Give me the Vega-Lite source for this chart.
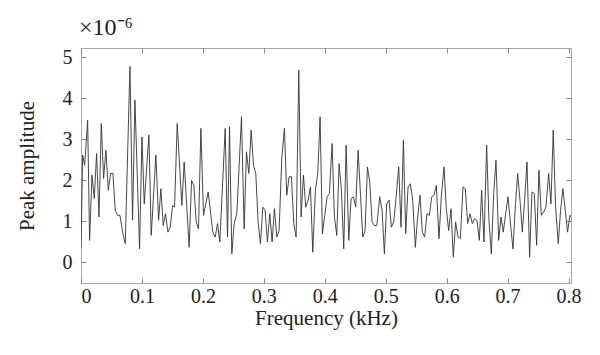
{
  "$schema": "https://vega.github.io/schema/vega-lite/v6.json",
  "autosize": {"type": "none"},
  "width": 490,
  "height": 235,
  "padding": {"left": 81, "top": 48, "right": 29, "bottom": 72},
  "background": "white",
  "title": {"text": "×10⁻⁶", "anchor": "start", "frame": "group", "offset": 7, "font": "Liberation Serif", "fontSize": 24, "fontWeight": "normal", "color": "#222", "dx": -2},
  "config": {
    "title": {"fontSize": 24},
    "view": {"stroke": "#aaaaaa", "strokeWidth": 1},
    "axis": {"grid": false, "domain": false, "tickColor": "#888888", "tickSize": -5, "labelFont": "Liberation Serif", "labelFontSize": 20, "labelColor": "#222", "titleFont": "Liberation Serif", "titleFontSize": 21, "titleFontWeight": "normal", "titleColor": "#222"}
  },
  "data": {"values": [
    {"f":0,"a":0.35},{"f":0.0027,"a":2.62},{"f":0.0060,"a":2.37},{"f":0.0109,"a":3.47},{"f":0.0141,"a":0.54},{"f":0.0180,"a":2.13},{"f":0.0218,"a":1.56},{"f":0.0256,"a":2.66},{"f":0.0295,"a":1.11},{"f":0.0333,"a":3.39},{"f":0.0371,"a":2.05},{"f":0.0409,"a":2.74},{"f":0.0448,"a":1.76},{"f":0.0486,"a":2.17},{"f":0.0524,"a":2.17},{"f":0.0562,"a":1.27},{"f":0.0601,"a":1.15},{"f":0.0639,"a":1.15},{"f":0.0688,"a":0.70},{"f":0.0726,"a":0.46},{"f":0.0803,"a":4.78},{"f":0.0846,"a":1.03},{"f":0.0885,"a":3.96},{"f":0.0961,"a":0.33},{"f":0.1000,"a":3.06},{"f":0.1038,"a":1.43},{"f":0.1114,"a":3.11},{"f":0.1152,"a":0.66},{"f":0.1229,"a":2.62},{"f":0.1273,"a":1.03},{"f":0.1311,"a":1.80},{"f":0.1349,"a":0.90},{"f":0.1387,"a":1.19},{"f":0.1426,"a":0.74},{"f":0.1464,"a":0.86},{"f":0.1502,"a":1.39},{"f":0.1535,"a":1.35},{"f":0.1579,"a":3.39},{"f":0.1655,"a":1.39},{"f":0.1693,"a":2.45},{"f":0.1775,"a":0.37},{"f":0.1814,"a":2.00},{"f":0.1852,"a":1.88},{"f":0.1890,"a":0.99},{"f":0.1928,"a":0.82},{"f":0.1967,"a":3.27},{"f":0.2010,"a":1.15},{"f":0.2087,"a":1.72},{"f":0.2163,"a":0.74},{"f":0.2202,"a":0.62},{"f":0.2240,"a":0.95},{"f":0.2278,"a":0.50},{"f":0.2366,"a":3.27},{"f":0.2404,"a":0.62},{"f":0.2437,"a":3.31},{"f":0.2475,"a":0.21},{"f":0.2513,"a":0.95},{"f":0.2557,"a":1.19},{"f":0.2633,"a":3.55},{"f":0.2677,"a":0.82},{"f":0.2715,"a":2.70},{"f":0.2754,"a":2.17},{"f":0.2792,"a":3.23},{"f":0.2830,"a":2.37},{"f":0.2868,"a":2.17},{"f":0.2906,"a":0.99},{"f":0.2944,"a":0.46},{"f":0.2983,"a":1.35},{"f":0.3021,"a":1.27},{"f":0.3059,"a":0.50},{"f":0.3098,"a":1.19},{"f":0.3136,"a":0.50},{"f":0.3174,"a":1.31},{"f":0.3213,"a":0.62},{"f":0.3251,"a":0.78},{"f":0.3294,"a":2.53},{"f":0.3338,"a":3.27},{"f":0.3376,"a":1.64},{"f":0.3415,"a":2.09},{"f":0.3453,"a":2.09},{"f":0.3491,"a":0.95},{"f":0.3530,"a":0.62},{"f":0.3573,"a":4.69},{"f":0.3612,"a":1.11},{"f":0.3650,"a":2.13},{"f":0.3688,"a":1.35},{"f":0.3727,"a":1.52},{"f":0.3765,"a":1.84},{"f":0.3803,"a":0.25},{"f":0.3846,"a":1.76},{"f":0.3885,"a":2.17},{"f":0.3923,"a":3.55},{"f":0.3961,"a":0.70},{"f":0.4000,"a":1.15},{"f":0.4038,"a":1.60},{"f":0.4076,"a":1.68},{"f":0.4120,"a":2.90},{"f":0.4158,"a":1.11},{"f":0.4197,"a":0.66},{"f":0.4235,"a":2.41},{"f":0.4273,"a":1.76},{"f":0.4311,"a":0.33},{"f":0.4350,"a":2.86},{"f":0.4393,"a":0.54},{"f":0.4432,"a":1.56},{"f":0.4470,"a":1.60},{"f":0.4508,"a":1.35},{"f":0.4547,"a":2.74},{"f":0.4585,"a":1.68},{"f":0.4623,"a":0.62},{"f":0.4661,"a":0.78},{"f":0.4700,"a":2.33},{"f":0.4738,"a":1.96},{"f":0.4776,"a":0.99},{"f":0.4814,"a":0.90},{"f":0.4853,"a":0.90},{"f":0.4902,"a":1.60},{"f":0.4940,"a":1.27},{"f":0.4978,"a":0.21},{"f":0.5016,"a":1.43},{"f":0.5055,"a":1.52},{"f":0.5093,"a":0.86},{"f":0.5131,"a":0.99},{"f":0.5169,"a":1.56},{"f":0.5213,"a":2.33},{"f":0.5251,"a":0.86},{"f":0.5290,"a":2.98},{"f":0.5328,"a":0.70},{"f":0.5366,"a":1.84},{"f":0.5404,"a":1.92},{"f":0.5443,"a":1.52},{"f":0.5486,"a":0.37},{"f":0.5519,"a":1.03},{"f":0.5562,"a":1.64},{"f":0.5601,"a":0.74},{"f":0.5639,"a":0.62},{"f":0.5677,"a":1.19},{"f":0.5716,"a":1.15},{"f":0.5754,"a":1.60},{"f":0.5792,"a":1.64},{"f":0.5831,"a":1.88},{"f":0.5874,"a":0.58},{"f":0.5912,"a":1.60},{"f":0.5956,"a":2.33},{"f":0.5994,"a":1.31},{"f":0.6033,"a":0.78},{"f":0.6071,"a":1.31},{"f":0.6109,"a":0.13},{"f":0.6147,"a":0.99},{"f":0.6186,"a":0.62},{"f":0.6224,"a":0.58},{"f":0.6268,"a":1.84},{"f":0.6306,"a":1.80},{"f":0.6344,"a":0.95},{"f":0.6383,"a":1.19},{"f":0.6421,"a":0.95},{"f":0.6459,"a":1.07},{"f":0.6497,"a":1.03},{"f":0.6536,"a":0.54},{"f":0.6574,"a":1.76},{"f":0.6612,"a":0.50},{"f":0.6656,"a":2.86},{"f":0.6694,"a":1.03},{"f":0.6733,"a":0.21},{"f":0.6771,"a":1.68},{"f":0.6809,"a":2.49},{"f":0.6853,"a":0.54},{"f":0.6891,"a":1.11},{"f":0.6929,"a":0.74},{"f":0.6968,"a":1.19},{"f":0.7006,"a":1.60},{"f":0.7044,"a":0.99},{"f":0.7088,"a":0.33},{"f":0.7126,"a":1.35},{"f":0.7164,"a":2.17},{"f":0.7203,"a":1.52},{"f":0.7241,"a":0.74},{"f":0.7279,"a":1.52},{"f":0.7318,"a":2.45},{"f":0.7361,"a":0.13},{"f":0.7399,"a":1.72},{"f":0.7438,"a":1.68},{"f":0.7476,"a":0.42},{"f":0.7514,"a":2.25},{"f":0.7553,"a":1.15},{"f":0.7591,"a":1.23},{"f":0.7629,"a":1.35},{"f":0.7673,"a":2.17},{"f":0.7711,"a":1.43},{"f":0.7749,"a":3.23},{"f":0.7787,"a":1.35},{"f":0.7831,"a":0.46},{"f":0.7869,"a":1.27},{"f":0.7907,"a":1.80},{"f":0.7946,"a":1.27},{"f":0.7984,"a":0.74},{"f":0.8022,"a":1.15},{"f":0.804,"a":1.11}
  ]},
  "layer": [
    {
      "mark": {"type": "line", "color": "#333333", "strokeWidth": 0.9, "clip": true},
      "encoding": {
        "x": {"field": "f", "type": "quantitative", "scale": {"domain": [0, 0.804], "nice": false, "zero": false}, "axis": {"orient": "bottom", "values": [0,0.1,0.2,0.3,0.4,0.5,0.6,0.7,0.8], "format": ".1~f", "labelPadding": 8, "title": "Frequency (kHz)", "titlePadding": 1}},
        "y": {"field": "a", "type": "quantitative", "scale": {"domain": [-0.5, 5.23], "nice": false, "zero": false}, "axis": {"orient": "left", "values": [0,1,2,3,4,5], "labelPadding": 14, "title": "Peak amplitude", "titlePadding": 25}}
      }
    },
    {
      "mark": {"type": "line", "color": "#333333", "strokeWidth": 0.9, "clip": true, "opacity": 0},
      "encoding": {
        "x": {"field": "f", "type": "quantitative", "scale": {"domain": [0, 0.804], "nice": false, "zero": false}, "axis": {"orient": "top", "values": [0,0.1,0.2,0.3,0.4,0.5,0.6,0.7,0.8], "labels": false, "title": null}},
        "y": {"field": "a", "type": "quantitative", "scale": {"domain": [-0.5, 5.23], "nice": false, "zero": false}, "axis": {"orient": "right", "values": [0,1,2,3,4,5], "labels": false, "title": null}}
      }
    }
  ],
  "resolve": {"axis": {"x": "independent", "y": "independent"}}
}
